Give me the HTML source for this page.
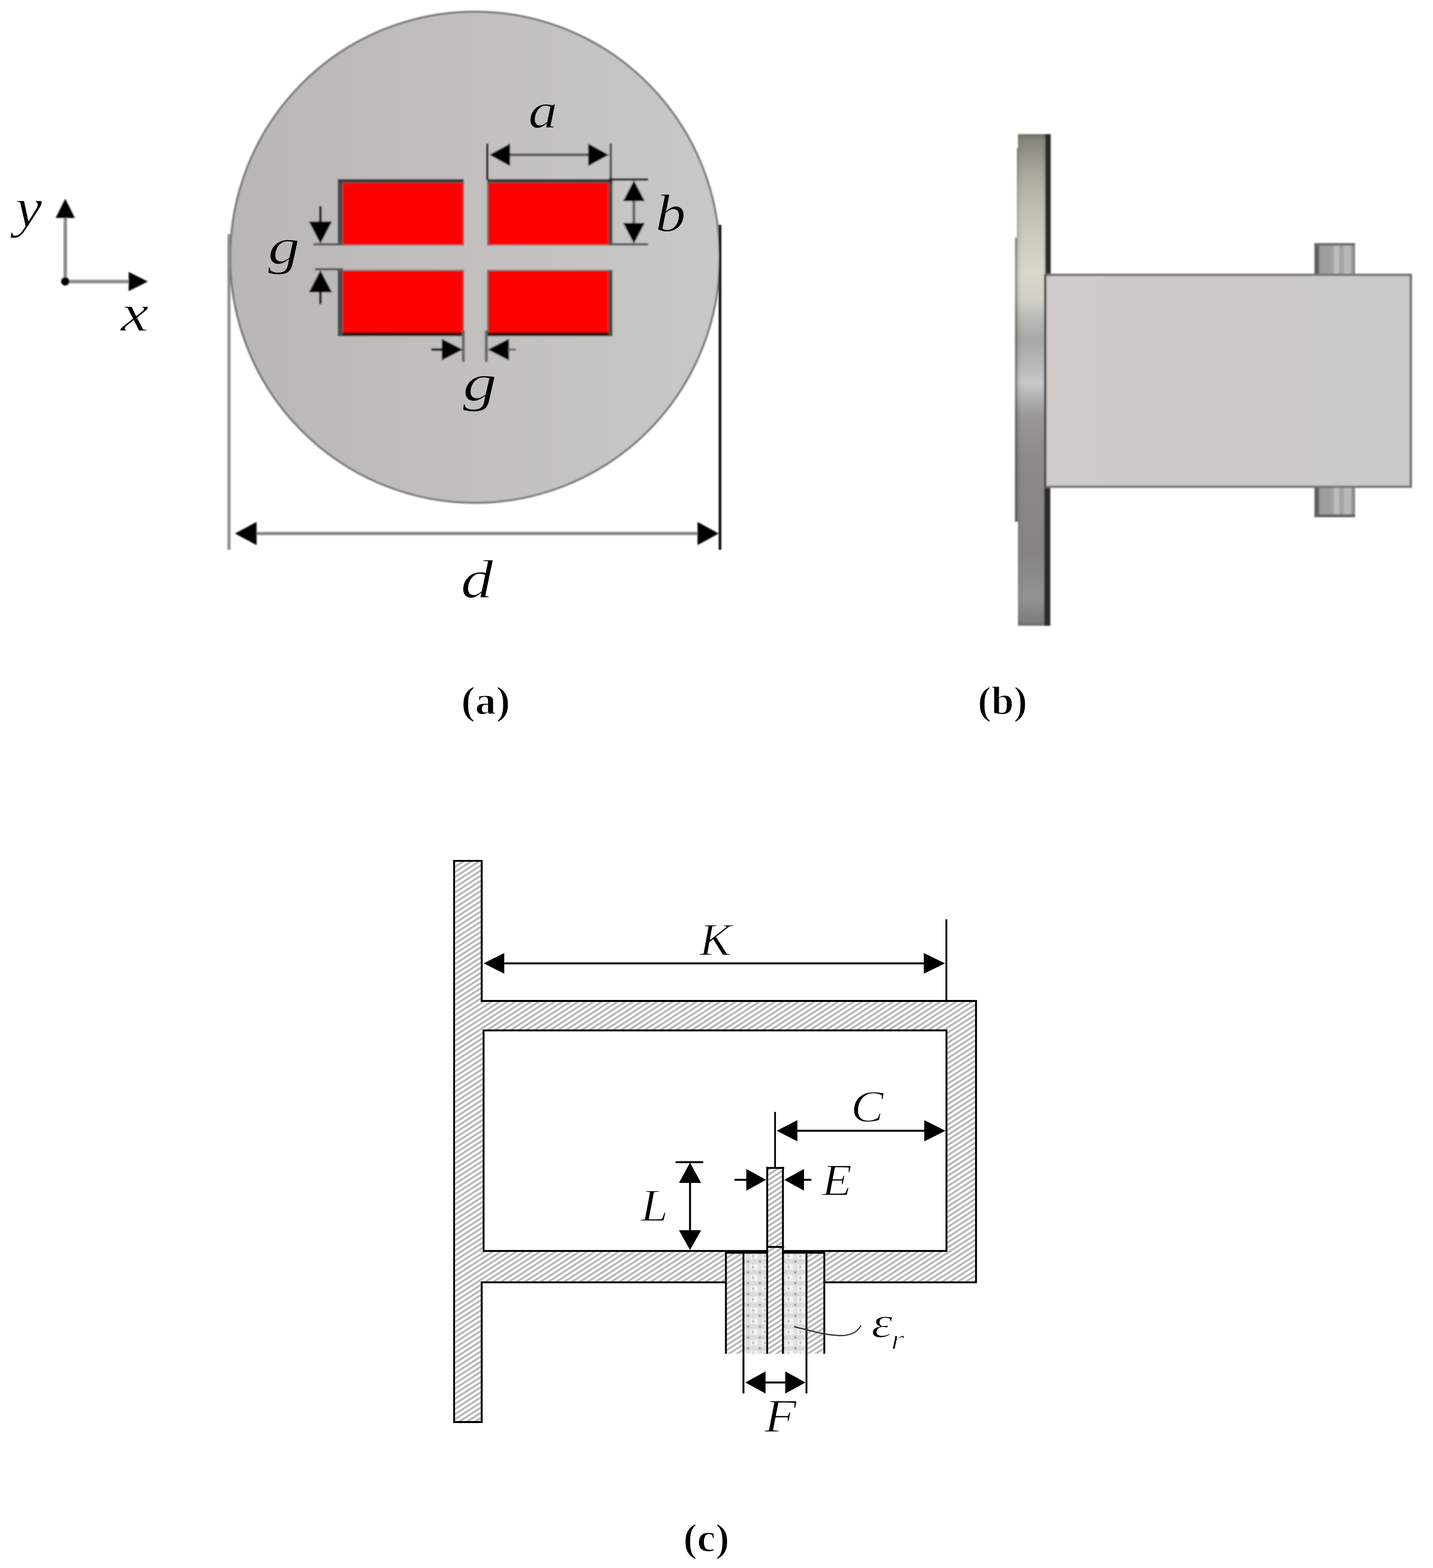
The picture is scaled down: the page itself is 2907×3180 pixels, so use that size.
<!DOCTYPE html>
<html lang="en">
<head>
<meta charset="utf-8">
<title>Figure: aperture geometry (a), side view (b), cross-section (c)</title>
<style>
html,body{margin:0;padding:0;background:#fff;}
body{width:2907px;height:3180px;}
svg{display:block;position:absolute;left:0;top:0;}
svg text{font-family:"Liberation Serif","DejaVu Serif",serif;}
</style>
</head>
<body>
<svg width="2907" height="3180" viewBox="0 0 2907 3180">
<defs>
<filter id="soft" filterUnits="userSpaceOnUse" x="0" y="0" width="2907" height="3180"><feGaussianBlur stdDeviation="1.5"/></filter>
<filter id="soft3" filterUnits="userSpaceOnUse" x="0" y="0" width="2907" height="3180"><feGaussianBlur stdDeviation="0.7"/></filter>
<filter id="soft2" filterUnits="userSpaceOnUse" x="0" y="0" width="2907" height="3180"><feGaussianBlur stdDeviation="0.5"/></filter>
<linearGradient id="gDisk" x1="0" y1="0" x2="1" y2="0">
 <stop offset="0" stop-color="#b9b7b5"/><stop offset="0.35" stop-color="#bfbdbc"/><stop offset="1" stop-color="#c8c8c8"/>
</linearGradient>
<linearGradient id="gFlange" x1="0" y1="272" x2="0" y2="1270" gradientUnits="userSpaceOnUse">
 <stop offset="0" stop-color="#6e6e66"/>
 <stop offset="0.012" stop-color="#86867e"/>
 <stop offset="0.073" stop-color="#a5a59a"/>
 <stop offset="0.126" stop-color="#b8b8ac"/>
 <stop offset="0.205" stop-color="#c9c9bd"/>
 <stop offset="0.284" stop-color="#d8d8cc"/>
 <stop offset="0.337" stop-color="#d0d0c8"/>
 <stop offset="0.379" stop-color="#b8b8b4"/>
 <stop offset="0.416" stop-color="#a8a8a6"/>
 <stop offset="0.469" stop-color="#b8b8b8"/>
 <stop offset="0.505" stop-color="#c8c8c8"/>
 <stop offset="0.537" stop-color="#b0b0b0"/>
 <stop offset="0.574" stop-color="#9a9896"/>
 <stop offset="0.653" stop-color="#8e8c8a"/>
 <stop offset="0.758" stop-color="#888686"/>
 <stop offset="0.838" stop-color="#858383"/>
 <stop offset="0.890" stop-color="#8a8a86"/>
 <stop offset="0.943" stop-color="#929290"/>
 <stop offset="0.990" stop-color="#7e7e7a"/>
 <stop offset="1" stop-color="#6a6a66"/>
</linearGradient>
<linearGradient id="gFlangeX" x1="2058" y1="0" x2="2121" y2="0" gradientUnits="userSpaceOnUse">
 <stop offset="0" stop-color="#000" stop-opacity="0.36"/>
 <stop offset="0.07" stop-color="#000" stop-opacity="0.30"/>
 <stop offset="0.13" stop-color="#000" stop-opacity="0.05"/>
 <stop offset="0.30" stop-color="#000" stop-opacity="0"/>
 <stop offset="0.90" stop-color="#000" stop-opacity="0"/>
 <stop offset="1" stop-color="#000" stop-opacity="0.10"/>
</linearGradient>
<linearGradient id="gBody" x1="0" y1="0" x2="1" y2="0">
 <stop offset="0" stop-color="#cdcac7"/><stop offset="0.35" stop-color="#cbcac8"/><stop offset="1" stop-color="#cacaca"/>
</linearGradient>
<linearGradient id="gPin" x1="0" y1="0" x2="1" y2="0">
 <stop offset="0" stop-color="#5e5e5a"/><stop offset="0.10" stop-color="#62625e"/>
 <stop offset="0.13" stop-color="#9c9c98"/><stop offset="0.45" stop-color="#a3a09e"/>
 <stop offset="0.50" stop-color="#bdbdbb"/><stop offset="0.60" stop-color="#bcbcba"/>
 <stop offset="0.62" stop-color="#a2a2a0"/><stop offset="0.72" stop-color="#a6a6a4"/>
 <stop offset="0.75" stop-color="#bababa"/><stop offset="0.90" stop-color="#b4b4b2"/>
 <stop offset="0.93" stop-color="#8e8e8a"/><stop offset="1" stop-color="#8a8a86"/>
</linearGradient>
<pattern id="hatch" patternUnits="userSpaceOnUse" width="16" height="8.7" patternTransform="rotate(-33)">
 <rect x="0" y="0" width="16" height="8.7" fill="#fcfcfc"/>
 <rect x="0" y="0" width="16" height="4.4" fill="#cfcfcf"/>
 <rect x="0" y="1.1" width="16" height="2.2" fill="#acacac"/>
</pattern>
<pattern id="diel" patternUnits="userSpaceOnUse" width="24" height="22" x="1508" y="2546">
 <rect width="24" height="22" fill="#f1f1f1"/>
 <rect x="0" y="8" width="24" height="9" fill="#dcdcdc"/>
 <rect x="5" y="0" width="9" height="22" fill="#d2d2d2" opacity="0.55"/>
 <rect x="17" y="0" width="5" height="22" fill="#d8d8d8" opacity="0.55"/>
 <rect x="7" y="10" width="5" height="5" fill="#c2c2c2"/>
 <rect x="8" y="11" width="3" height="3" fill="#9a9a9a"/>
 <rect x="18" y="0" width="3" height="3" fill="#b0b0b0"/>
</pattern>
</defs>
<g id="panel-a" filter="url(#soft)">
<line x1="132.4" y1="441" x2="132.4" y2="571" stroke="#8a8a8a" stroke-width="7" />
<line x1="132.4" y1="571" x2="262" y2="571" stroke="#8a8a8a" stroke-width="7" />
<polygon points="132.4,403.0 151.9,442.0 112.9,442.0" fill="#000"/>
<polygon points="300.0,571.0 261.0,590.5 261.0,551.5" fill="#000"/>
<circle cx="132.4" cy="570.8" r="8.5" fill="#000"/>
<ellipse cx="963.5" cy="521.7" rx="496.5" ry="498" fill="url(#gDisk)" stroke="#747474" stroke-width="4"/>
<rect x="685" y="363" width="256.00" height="134.50" fill="#4b4b4b" />
<rect x="685" y="363" width="256.00" height="8.00" fill="#3a3f3f" />
<rect x="695" y="371" width="244.00" height="125.00" fill="#fe0000" />
<rect x="988.5" y="363" width="254.00" height="134.50" fill="#4b4b4b" />
<rect x="988.5" y="363" width="254.00" height="8.00" fill="#3a3f3f" />
<rect x="991" y="371" width="243.00" height="125.00" fill="#fe0000" />
<rect x="685" y="547" width="256.00" height="135.00" fill="#4b4b4b" />
<rect x="695" y="673" width="246.00" height="7.50" fill="#3a0c0c" />
<rect x="685" y="547" width="256.00" height="2.50" fill="#6e7474" />
<rect x="695" y="549.5" width="244.00" height="124.50" fill="#fe0000" />
<rect x="988.5" y="547" width="254.00" height="135.00" fill="#4b4b4b" />
<rect x="988.5" y="673" width="245.50" height="7.50" fill="#3a0c0c" />
<rect x="988.5" y="547" width="254.00" height="2.50" fill="#6e7474" />
<rect x="991" y="549.5" width="243.00" height="124.50" fill="#fe0000" />
<line x1="988.6" y1="291" x2="988.6" y2="365" stroke="#0a0a0a" stroke-width="4.6" />
<line x1="1239" y1="291" x2="1239" y2="365" stroke="#555" stroke-width="5" />
<line x1="1030" y1="314" x2="1195" y2="314" stroke="#5e5e5e" stroke-width="6" />
<polygon points="993.0,314.0 1035.0,291.0 1035.0,337.0" fill="#000"/>
<polygon points="1235.0,314.0 1193.0,337.0 1193.0,291.0" fill="#000"/>
<line x1="1235" y1="364" x2="1315" y2="364" stroke="#0a0a0a" stroke-width="4.6" />
<line x1="1235" y1="495.5" x2="1315" y2="495.5" stroke="#555" stroke-width="4.5" />
<line x1="1286" y1="400" x2="1286" y2="455" stroke="#666" stroke-width="6" />
<polygon points="1286.0,366.0 1308.0,408.0 1264.0,408.0" fill="#000"/>
<polygon points="1286.0,494.0 1264.0,452.0 1308.0,452.0" fill="#000"/>
<line x1="636" y1="495.5" x2="695" y2="495.5" stroke="#555" stroke-width="4.5" />
<line x1="639" y1="546" x2="696" y2="546" stroke="#555" stroke-width="4.5" />
<line x1="650" y1="418" x2="650" y2="452" stroke="#0a0a0a" stroke-width="5" />
<polygon points="650.0,494.0 626.5,449.0 673.5,449.0" fill="#000"/>
<polygon points="650.0,548.0 673.5,593.0 626.5,593.0" fill="#000"/>
<line x1="650" y1="590" x2="650" y2="617" stroke="#0a0a0a" stroke-width="5" />
<line x1="940" y1="670" x2="940" y2="734" stroke="#666" stroke-width="6" />
<line x1="986.5" y1="670" x2="986.5" y2="734" stroke="#666" stroke-width="6" />
<line x1="875" y1="709" x2="900" y2="709" stroke="#0a0a0a" stroke-width="5" />
<polygon points="939.0,709.0 896.0,731.0 896.0,687.0" fill="#000"/>
<polygon points="989.5,709.0 1032.5,687.0 1032.5,731.0" fill="#000"/>
<line x1="1030" y1="709" x2="1046.5" y2="709" stroke="#555" stroke-width="4" />
<line x1="464.5" y1="475" x2="464.5" y2="1115" stroke="#8a8a8a" stroke-width="6" />
<line x1="1460.6" y1="456" x2="1460.6" y2="1115" stroke="#000" stroke-width="5.2" />
<line x1="518" y1="1082" x2="1418" y2="1082" stroke="#858585" stroke-width="6.5" />
<polygon points="476.5,1082.0 520.5,1058.5 520.5,1105.5" fill="#000"/>
<polygon points="1458.0,1082.0 1415.0,1105.5 1415.0,1058.5" fill="#000"/>
</g>
<g id="labels-a" filter="url(#soft3)"><text transform="translate(31.04,459.37) scale(1.0890,1)" font-size="112.03" style="font-style:italic" fill="#000" stroke="#fff" stroke-width="1.3" stroke-linejoin="round">y</text><text transform="translate(244.91,670.65) scale(1.1888,1)" font-size="107.41" style="font-style:italic" fill="#000" stroke="#fff" stroke-width="1.3" stroke-linejoin="round">x</text><text transform="translate(1071.82,258.60) scale(1.1568,1)" font-size="102.50" style="font-style:italic" fill="#000" stroke="#c3c3c2" stroke-width="1.3" stroke-linejoin="round">a</text><text transform="translate(1329.80,468.99) scale(1.1304,1)" font-size="108.58" style="font-style:italic" fill="#000" stroke="#c6c6c6" stroke-width="1.3" stroke-linejoin="round">b</text><text transform="translate(543.59,535.28) scale(1.2455,1)" font-size="104.16" style="font-style:italic" fill="#000" stroke="#bcbab8" stroke-width="1.3" stroke-linejoin="round">g</text><text transform="translate(938.78,811.62) scale(1.2965,1)" font-size="106.79" style="font-style:italic" fill="#000" stroke="#c1c0bf" stroke-width="1.3" stroke-linejoin="round">g</text><text transform="translate(934.90,1212.32) scale(1.1837,1)" font-size="110.21" style="font-style:italic" fill="#000" stroke="#fff" stroke-width="1.3" stroke-linejoin="round">d</text><text transform="translate(935.40,1448.13) scale(1.0684,1)" font-size="79.96" style="font-weight:bold" fill="#000" stroke="#fff" stroke-width="1.7" stroke-linejoin="round">(a)</text></g>
<g id="panel-b" filter="url(#soft)">
<rect x="2666.5" y="493" width="82.50" height="64.00" fill="url(#gPin)" />
<rect x="2666.5" y="493" width="82.50" height="5.00" fill="#6a6a66" />
<rect x="2666.5" y="988" width="82.50" height="61.00" fill="url(#gPin)" />
<rect x="2666.5" y="1043" width="82.50" height="6.00" fill="#64645f" />
<path d="M2065,272 L2131,272 L2131,1269 L2065,1269 L2065,1058 L2059,1058 L2059,482 L2063,482 L2063,300 L2065,300 Z" fill="url(#gFlange)"/>
<path d="M2065,272 L2121,272 L2121,1269 L2065,1269 L2065,1058 L2059,1058 L2059,482 L2063,482 L2063,300 L2065,300 Z" fill="url(#gFlangeX)"/>
<rect x="2120.5" y="272" width="11.00" height="284.00" fill="#2a2a28" />
<rect x="2118.5" y="988" width="12.00" height="281.00" fill="#2a2a28" />
<rect x="2119" y="555" width="745.50" height="434.50" fill="#747474" />
<rect x="2123" y="559.8" width="736.40" height="425.00" fill="url(#gBody)" />
<rect x="2118" y="556" width="5.00" height="432.00" fill="#505050" />
</g>
<g filter="url(#soft2)"><text transform="translate(1983.54,1448.13) scale(1.0276,1)" font-size="79.96" style="font-weight:bold" fill="#000" stroke="#fff" stroke-width="1.7" stroke-linejoin="round">(b)</text></g>
<g id="panel-c" filter="url(#soft2)">
<path d="M921.2,1745.9 L977.2,1745.9 L977.2,2030 L1980,2030 L1980,2600.7 L977.2,2600.7 L977.2,2884 L921.2,2884 Z" fill="url(#hatch)" stroke="#000" stroke-width="3.8" stroke-linejoin="miter"/>
<rect x="981" y="2089.7" width="939" height="447.3000000000002" fill="#fff" stroke="#000" stroke-width="3.8"/>
<rect x="1470.7" y="2535.2" width="203.40" height="210.30" fill="#fff" />
<rect x="1472.7" y="2538" width="35.30" height="207.50" fill="url(#hatch)" />
<rect x="1636.4" y="2538" width="35.80" height="207.50" fill="url(#hatch)" />
<rect x="1508" y="2538" width="48.70" height="207.50" fill="url(#diel)" />
<rect x="1588.6" y="2538" width="47.80" height="207.50" fill="url(#diel)" />
<rect x="1556.7" y="2368.6" width="31.90" height="376.90" fill="url(#hatch)" />
<rect x="1470.7" y="2535.2" width="86.00" height="7.40" fill="#000" />
<rect x="1588.6" y="2535.2" width="85.50" height="7.40" fill="#000" />
<line x1="1472.6" y1="2536" x2="1472.6" y2="2745.5" stroke="#000" stroke-width="3.8" />
<line x1="1672.2" y1="2536" x2="1672.2" y2="2745.5" stroke="#000" stroke-width="3.8" />
<line x1="1508.2" y1="2536" x2="1508.2" y2="2826" stroke="#000" stroke-width="3.8" />
<line x1="1636" y1="2536" x2="1636" y2="2826" stroke="#000" stroke-width="3.8" />
<line x1="1556.3" y1="2366.4" x2="1556.3" y2="2745.5" stroke="#000" stroke-width="3.8" />
<line x1="1588.3" y1="2366.4" x2="1588.3" y2="2745.5" stroke="#000" stroke-width="3.8" />
<line x1="1554.5" y1="2368.6" x2="1590.8" y2="2368.6" stroke="#000" stroke-width="3.8" />
<line x1="1554.5" y1="2528.8" x2="1590.8" y2="2528.8" stroke="#000" stroke-width="3.8" />
<line x1="1919.8" y1="1864.4" x2="1919.8" y2="2030" stroke="#000" stroke-width="3.6" />
<line x1="1020" y1="1953.7" x2="1876" y2="1953.7" stroke="#000" stroke-width="4" />
<polygon points="981.0,1953.7 1023.0,1932.7 1023.0,1974.7" fill="#000"/>
<polygon points="1917.0,1953.7 1874.0,1974.7 1874.0,1932.7" fill="#000"/>
<text transform="translate(1418.93,1936.80) scale(1.0281,1)" font-size="94.08" style="font-style:italic" fill="#000" stroke="#fff" stroke-width="1.6" stroke-linejoin="round">K</text>
<line x1="1572.3" y1="2255" x2="1572.3" y2="2368" stroke="#000" stroke-width="3.6" />
<line x1="1615" y1="2293.2" x2="1876" y2="2293.2" stroke="#000" stroke-width="4" />
<polygon points="1575.6,2293.2 1617.6,2271.7 1617.6,2314.7" fill="#000"/>
<polygon points="1918.0,2293.2 1875.0,2314.7 1875.0,2271.7" fill="#000"/>
<text transform="translate(1726.17,2274.95) scale(1.0818,1)" font-size="91.75" style="font-style:italic" fill="#000" stroke="#fff" stroke-width="1.6" stroke-linejoin="round">C</text>
<line x1="1490" y1="2392.7" x2="1517" y2="2392.7" stroke="#000" stroke-width="4" />
<polygon points="1554.0,2392.7 1514.0,2414.7 1514.0,2370.7" fill="#000"/>
<polygon points="1591.0,2392.7 1631.0,2370.7 1631.0,2414.7" fill="#000"/>
<line x1="1627" y1="2392.7" x2="1646" y2="2392.7" stroke="#000" stroke-width="4" />
<text transform="translate(1667.37,2423.80) scale(1.0869,1)" font-size="91.94" style="font-style:italic" fill="#000" stroke="#fff" stroke-width="1.6" stroke-linejoin="round">E</text>
<line x1="1370.5" y1="2357" x2="1426.5" y2="2357" stroke="#000" stroke-width="4" />
<line x1="1399.8" y1="2395" x2="1399.8" y2="2498" stroke="#000" stroke-width="4" />
<polygon points="1399.8,2358.0 1422.3,2399.0 1377.3,2399.0" fill="#000"/>
<polygon points="1399.8,2535.0 1377.3,2495.0 1422.3,2495.0" fill="#000"/>
<text transform="translate(1299.38,2475.80) scale(1.0830,1)" font-size="93.31" style="font-style:italic" fill="#000" stroke="#fff" stroke-width="1.6" stroke-linejoin="round">L</text>
<line x1="1550" y1="2803.7" x2="1596" y2="2803.7" stroke="#000" stroke-width="4" />
<polygon points="1512.0,2803.7 1553.0,2781.2 1553.0,2826.2" fill="#000"/>
<polygon points="1634.0,2803.7 1593.0,2826.2 1593.0,2781.2" fill="#000"/>
<text transform="translate(1550.77,2903.80) scale(1.1281,1)" font-size="94.53" style="font-style:italic" fill="#000" stroke="#fff" stroke-width="1.6" stroke-linejoin="round">F</text>
<path d="M1612,2691 C1640,2697 1668,2707 1700,2708.5 C1722,2709.5 1738,2704 1746,2689" fill="none" stroke="#333" stroke-width="2.6" stroke-linecap="round"/>
<text transform="translate(1767.55,2712.44) scale(1.2423,1)" font-size="87.95" style="font-style:italic" fill="#000" stroke="#fff" stroke-width="1.6" stroke-linejoin="round">ε</text>
<text transform="translate(1807.36,2735.80) scale(1.1946,1)" font-size="58.57" style="font-style:italic" fill="#000" stroke="#fff" stroke-width="1.6" stroke-linejoin="round">r</text>
</g>
<g filter="url(#soft2)"><text transform="translate(1385.94,3146.13) scale(1.0549,1)" font-size="79.96" style="font-weight:bold" fill="#000" stroke="#fff" stroke-width="1.7" stroke-linejoin="round">(c)</text></g>
</svg>
</body>
</html>
